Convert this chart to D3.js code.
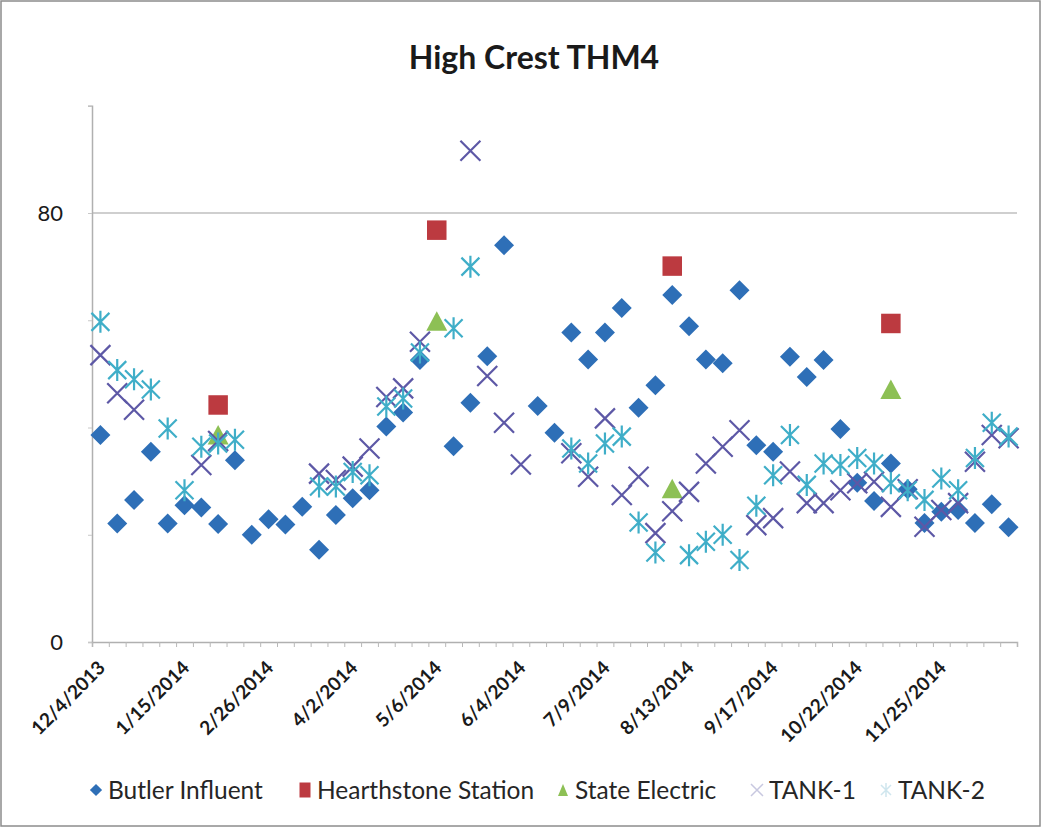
<html>
<head>
<meta charset="utf-8">
<style>
  body { margin: 0; background: #fff; }
  text { font-family: Lato, "Open Sans", sans-serif; }
</style>
</head>
<body>
<svg width="1042" height="828"></svg>

<script src="https://cdn.jsdelivr.net/npm/d3@7/dist/d3.min.js"></script>
<script type="text/javascript">
// sample dates (category axis, only every 5th one is labelled)
const dates = [
  "12/4/2013","12/11/2013","12/18/2013","12/26/2013","1/8/2014",
  "1/15/2014","1/22/2014","1/29/2014","2/5/2014","2/12/2014",
  "2/26/2014","3/5/2014","3/12/2014","3/19/2014","3/26/2014",
  "4/2/2014","4/9/2014","4/16/2014","4/23/2014","4/30/2014",
  "5/6/2014","5/13/2014","5/20/2014","5/22/2014","5/28/2014",
  "6/4/2014","6/11/2014","6/18/2014","6/25/2014","7/2/2014",
  "7/9/2014","7/16/2014","7/23/2014","7/30/2014","8/6/2014",
  "8/13/2014","8/20/2014","8/27/2014","9/3/2014","9/10/2014",
  "9/17/2014","9/24/2014","10/1/2014","10/8/2014","10/15/2014",
  "10/22/2014","10/29/2014","11/5/2014","11/12/2014","11/19/2014",
  "11/25/2014","12/3/2014","12/10/2014","12/17/2014","12/23/2014"
];

const butler = [
  38.6, 22.1, 26.5, 35.5, 22.1, 25.5, 25.1, 22.0, 33.9, 20.0,
  22.9, 21.9, 25.2, 17.2, 23.7, 26.8, 28.3, 40.2, 42.8, 52.6,
  null, 36.5, 44.6, 53.3, 74.0, null, 44.0, 39.0, 57.7, 52.7,
  57.7, 62.3, 43.7, 47.9, 64.7, 58.9, 52.7, 52.0, 65.6, 36.7,
  35.5, 53.2, 49.4, 52.6, 39.7, 29.7, 26.3, 33.3, 28.5, 22.2,
  24.3, 24.6, 22.2, 25.7, 21.4
];

const hearthstone = [];
hearthstone[7] = 44.2; hearthstone[20] = 76.8; hearthstone[34] = 70.1; hearthstone[47] = 59.4;

const stateElectric = [];
stateElectric[7] = 38.5; stateElectric[20] = 59.7; stateElectric[34] = 28.5; stateElectric[47] = 47.0;

const tank1 = [
  53.5, 46.4, 43.3, null, null, null, 33.0, 37.5, null, null,
  null, null, null, 31.4, 30.2, 32.7, 36.1, 45.7, 47.3, 56.0,
  null, null, 91.6, 49.6, 40.9, 33.1, null, null, 35.2, 30.8,
  41.7, 27.4, 30.8, 20.3, 24.4, 28.0, 33.3, 36.4, 39.5, 21.8,
  23.1, 31.8, 25.9, 25.9, 28.3, 29.6, 29.9, 25.2, 28.5, 21.5,
  24.6, 25.9, 33.6, 38.6, 38.0
];

const tank2 = [
  59.7, 50.7, 49.0, 47.1, 39.8, 28.3, 36.4, 37.0, 37.7, null,
  null, null, null, 29.0, 29.0, 31.7, 31.1, 43.9, 45.4, 54.0,
  null, 58.5, 70.0, null, null, null, null, null, 36.1, 33.3,
  37.0, 38.3, 22.3, 16.7, null, 16.2, 18.7, 20.0, 15.3, 25.4,
  31.1, 38.6, 29.3, 33.3, 33.0, 34.3, 33.3, 29.6, 28.3, 26.5,
  30.5, 28.3, 34.3, 40.9, 38.3
];

const yTicks = [0, 80];

let svg = d3.select("svg");

// chart frame
svg.append("rect").attr("x", 1).attr("y", 1).attr("width", 1039).attr("height", 825)
  .attr("fill", "#fff").attr("stroke", "#8c8c8c").attr("stroke-width", 1.5);

const plotLeft = 92, plotRight = 1017, plotTop = 105.75, plotBottom = 642;

let x = d3.scaleBand().domain(d3.range(dates.length)).range([plotLeft, plotRight]);
let xEdge = d3.scaleLinear().domain([0, dates.length]).range([plotLeft, plotRight]);
let y = d3.scaleLinear().domain([0, 100]).range([plotBottom, plotTop]);
const cx = i => x(i) + x.bandwidth() / 2;

// title
svg.append("text").attr("x", 534).attr("y", 69).attr("text-anchor", "middle")
  .style("font-size", "32px").style("font-weight", "bold").attr("fill", "#1a1a1a")
  .text("High Crest THM4");

// gridline at 80
svg.append("g").selectAll("line").data(yTicks.filter(d => d > 0)).join("line")
  .attr("x1", plotLeft).attr("x2", plotRight).attr("y1", d => y(d)).attr("y2", d => y(d))
  .attr("stroke", "#bfbfbf").attr("stroke-width", 1.5);

// y axis
let yAxis = svg.append("g").attr("transform", `translate(${plotLeft},0)`)
  .call(d3.axisLeft(y).tickValues([0, 20, 40, 60, 80, 100]).tickSize(4).tickFormat(""));
yAxis.select(".domain").attr("stroke", "#b0b0b0").attr("stroke-width", 1.5);
yAxis.selectAll(".tick line").attr("stroke", "#c8c8c8");

svg.append("g").attr("transform", `translate(${plotLeft - 29},0)`)
  .call(d3.axisLeft(y).tickValues(yTicks).tickSize(0).tickPadding(0))
  .call(g => g.select(".domain").remove())
  .selectAll("text").style("font-size", "22px").attr("fill", "#1a1a1a")
  .style("font-family", "Lato, sans-serif").attr("dy", "0.35em");

// x axis: boundary ticks
let xAxis = svg.append("g").attr("transform", `translate(0,${plotBottom})`)
  .call(d3.axisBottom(xEdge).tickValues(d3.range(dates.length + 1)).tickSize(5).tickFormat(""));
xAxis.select(".domain").attr("stroke", "#b0b0b0").attr("stroke-width", 1.5);
xAxis.selectAll(".tick line").attr("stroke", "#b8b8b8");

// x labels every 5th category
let xLab = svg.append("g").attr("transform", `translate(0,${plotBottom})`)
  .call(d3.axisBottom(x).tickValues(d3.range(0, dates.length, 5)).tickSize(0)
    .tickFormat(i => dates[i]));
xLab.select(".domain").remove();
xLab.selectAll("text")
  .attr("text-anchor", "end").attr("y", 0).attr("dy", 0)
  .attr("transform", "translate(6,27) rotate(-45)")
  .style("font-size", "19px").style("font-weight", "bold").attr("fill", "#1a1a1a")
  .style("font-family", "Lato, sans-serif");

// marker shapes
const diamond = d3.symbol(d3.symbolSquare, 200)();
const square = d3.symbol(d3.symbolSquare, 380)();
const triangle = "M0,-10.5L10.5,9L-10.5,9Z";
const cross = "M-10,-10L10,10M-10,10L10,-10";
const star = "M-9,-9L9,9M-9,9L9,-9M0,-11L0,11";

function drawSeries(vals, path, opts) {
  const pts = vals.map((v, i) => ({i, v})).filter(d => d.v != null);
  svg.append("g").selectAll("path").data(pts).join("path")
    .attr("d", path)
    .attr("transform", d => `translate(${cx(d.i)},${y(d.v)})` + (opts.rot ? " rotate(45)" : ""))
    .attr("fill", opts.fill || "none")
    .attr("stroke", opts.stroke || "none")
    .attr("stroke-width", opts.sw || 0);
}

drawSeries(butler, diamond, {fill: "#2E6FB7", rot: true});
drawSeries(hearthstone, square, {fill: "#BC3A40"});
drawSeries(stateElectric, triangle, {fill: "#8DC055"});
drawSeries(tank1, cross, {stroke: "#5D58A6", sw: 2.2});
drawSeries(tank2, star, {stroke: "#3FAEC8", sw: 2.2});

// legend
const legendNames = ["Butler Influent", "Hearthstone Station", "State Electric", "TANK-1", "TANK-2"];
const legendX = [96, 305, 563, 757, 886];
const legendMarks = [
  {d: d3.symbol(d3.symbolSquare, 75)(), fill: "#2E6FB7", rot: true},
  {d: "M-5.5,-7.5h11v15h-11Z", fill: "#BC3A40"},
  {d: "M0,-6L5,6L-5,6Z", fill: "#8DC055"},
  {d: "M-6,-6L6,6M-6,6L6,-6", stroke: "#c8c8e0"},
  {d: "M-5,-5L5,5M-5,5L5,-5M0,-7L0,7", stroke: "#cfe6ee"}
];
let legend = svg.append("g");
legendNames.forEach((name, k) => {
  const m = legendMarks[k];
  legend.append("path").attr("d", m.d)
    .attr("transform", `translate(${legendX[k]},790)` + (m.rot ? " rotate(45)" : ""))
    .attr("fill", m.fill || "none").attr("stroke", m.stroke || "none").attr("stroke-width", 1.5);
  legend.append("text").attr("x", legendX[k] + 12).attr("y", 799)
    .style("font-size", "24.5px").attr("fill", "#262626").text(name);
});
</script>
</body>
</html>
